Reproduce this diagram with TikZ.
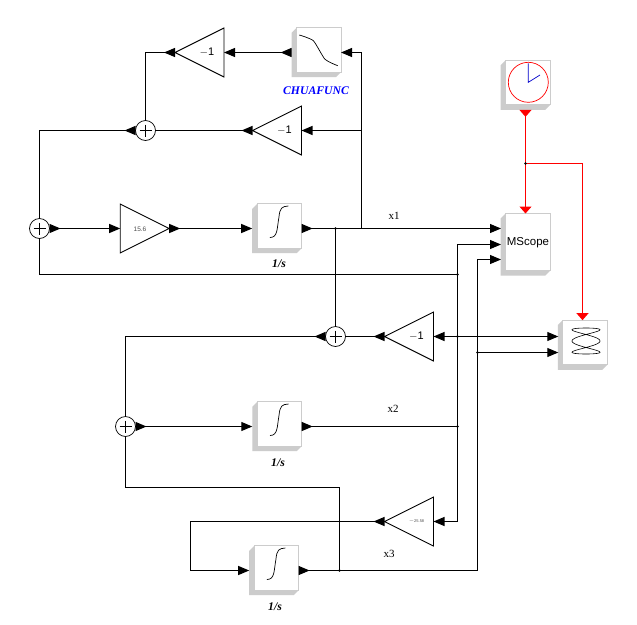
\documentclass[tikz,border=0pt]{standalone}
\usepackage{fontspec}
\setmainfont{Liberation Serif}
\setsansfont{Liberation Sans}
\usetikzlibrary{calc,arrows.meta}
\definecolor{boxgray}{RGB}{204,204,204}
\tikzset{
  x=1pt,y=-1pt,
  boxnode/.style={inner sep=0pt,outer sep=0pt,font=\sffamily},
  gainnode/.style={inner sep=0pt,outer sep=0pt,minimum width=49pt,minimum height=49pt},
  sumnode/.style={circle,draw=black,line width=0.7pt,fill=white,inner sep=0pt,outer sep=0pt,minimum size=20pt},
  glyph/.style={line width=0.7pt},
  tri/.style={draw=black,line width=0.9pt,fill=white,line join=miter},
  wire/.style={draw=black,line width=1.05pt},
  wo/.style={wire,{Triangle[reversed,length=11pt,width=9pt]}-},
  wi/.style={wire,-{Triangle[length=11pt,width=9pt]}},
  woi/.style={wire,{Triangle[reversed,length=11pt,width=9pt]}-{Triangle[length=11pt,width=9pt]}},
  wii/.style={wire,{Triangle[length=11pt,width=9pt]}-{Triangle[length=11pt,width=9pt]}},
  redoi/.style={draw=red,line width=1.05pt,{Triangle[reversed,length=7pt,width=12pt]}-{Triangle[length=7pt,width=12pt]}},
  redi/.style={draw=red,line width=1.05pt,-{Triangle[length=7pt,width=12pt]}},
  lab/.style={font=\fontsize{11}{13}\selectfont,inner sep=0pt},
  blab/.style={font=\fontsize{11.7}{14}\selectfont\bfseries\itshape,inner sep=0pt},
}
% name, cx, cy, w, h, text
\newcommand{\scoblock}[6]{%
  \node[boxnode,minimum width=#4pt,minimum height=#5pt] (#1) at (#2,#3) {};
  \fill[boxgray] ($(#1.north west)+(5,0)$) -- ($(#1.north west)+(0,5)$) -- (#1.south west) -- ($(#1.south east)+(-5,0)$) -- ($(#1.south east)+(0,-5)$) -- cycle;
  \draw[boxgray,fill=white,line width=0.8pt] ($(#1.north west)+(5,0)$) rectangle ($(#1.south east)+(0,-5)$);
  \node[boxnode,font=\sffamily\fontsize{11.5}{13}\selectfont] at ($(#1.center)+(2.5,-1.7)$) {#6};
}
% left-pointing gain
\newcommand{\gainleft}[5]{%
  \node[gainnode] (#1) at (#2,#3) {};
  \draw[tri] (#1.north east) -- (#1.south east) -- (#1.west) -- cycle;
  \node[inner sep=0pt,#5] at ($(#1.center)+(7.5,0)$) {#4};
}
\newcommand{\sumjunction}[3]{%
  \node[sumnode] (#1) at (#2,#3) {};
  \draw[line width=0.7pt] ($(#1.center)+(-6,0)$) -- ($(#1.center)+(6,0)$) ($(#1.center)+(0,-6)$) -- ($(#1.center)+(0,6)$);
}
\newcommand{\intglyph}[1]{%
  \draw[glyph,shift={(#1.center)}] (-7,9) .. controls (1,9) and (0,0) .. (2,-11) .. controls (3,-21) and (5,-22) .. (11.5,-22.5);
}
\begin{document}
\begin{tikzpicture}[x=1pt,y=-1pt]
\useasboundingbox[fill=white] (0,0) rectangle (637,624);
% named junctions
\coordinate (j1) at (335.5,228.5);
\coordinate (jx) at (361.5,228.5);
\coordinate (jg2) at (361.5,130.5);
\coordinate (ms1) at (501,228.5);
\coordinate (ms2) at (501,244.5);
\coordinate (ms3) at (501,259.5);
\coordinate (c2) at (457.5,244.5);
\coordinate (c5) at (477.5,259.5);
\coordinate (j274) at (457.5,274.5);
\coordinate (j336) at (457.5,336.5);
\coordinate (j353) at (477.5,352.5);
\coordinate (j426) at (457.5,426.5);
\coordinate (sc1) at (558.3,336.5);
\coordinate (sc2) at (558.3,352.5);
\coordinate (c3) at (190.5,521.5);
\coordinate (c4) at (339.5,487.5);
\coordinate (j3) at (339.5,570.5);
\coordinate (jr) at (525.5,163.5);
% blocks
\gainleft{g1}{199.5}{52.5}{$-$1}{font=\sffamily\fontsize{11}{13}\selectfont}
\gainleft{g2}{277}{130.5}{$-$1}{font=\sffamily\fontsize{11}{13}\selectfont}
\gainleft{g3}{409}{336.5}{$-$1}{font=\sffamily\fontsize{11}{13}\selectfont}
\gainleft{g4}{409}{521.5}{$-$25.58}{font=\sffamily\fontsize{4}{5}\selectfont,text=black!70}
\node[gainnode] (g0) at (144.7,228.5) {};
\draw[tri] (g0.north west) -- (g0.south west) -- (g0.east) -- cycle;
\node[inner sep=0pt,font=\sffamily\fontsize{6.5}{8}\selectfont,text=black!70] at (140,229) {15.6};
\sumjunction{s1}{145.5}{130.5}
\sumjunction{s2}{39.5}{228.5}
\sumjunction{s3}{335.5}{336.5}
\sumjunction{s4}{125.5}{426.5}
\scoblock{chua}{316.3}{52.5}{49.4}{49.4}{}
\scoblock{i1}{276.9}{228.5}{49.4}{49.4}{}
\scoblock{i2}{277}{426.5}{49.4}{49.4}{}
\scoblock{i3}{273.9}{570.5}{49.4}{49.4}{}
\scoblock{clk}{525.5}{85}{49.7}{49.7}{}
\scoblock{ms}{525.5}{244.5}{49.7}{62}{MScope}
\scoblock{sc}{582.5}{345}{49.4}{49.7}{}
% glyphs
\draw[glyph] plot[smooth,tension=0.35] coordinates {(299.3,35) (313.3,40.7) (325,59.3) (337.7,65.7)};
\intglyph{i1}
\intglyph{i2}
\intglyph{i3}
\draw[red,line width=0.7pt] (528.3,82.3) circle (20);
\draw[blue!80!black,line width=0.7pt] (528.3,63.3) -- (528.3,82.3) -- (540,75);
\draw[line width=0.6pt] plot[domain=0:360,samples=120,smooth] ({586+14*sin(3*\x)},{341-13*cos(\x)});
% wires
\draw[woi] (chua.west) -- (g1.east);
\draw[wo] (g1.west) -| (s1.north);
\draw[wo] (s1.west) -| (s2.north);
\draw[wo] (g2.west) -- (s1.east);
\draw[wi] (jg2) -- (g2.east);
\draw[wi] (jx) |- (chua.east);
\draw[woi] (s2.east) -- (g0.west);
\draw[woi] (g0.east) -- (i1.west);
\draw[woi] (i1.east) -- (ms1);
\draw[wire] (s2.south) |- (j274);
\draw[wire] (s3.north) -- (j1);
\draw[wo] (g3.west) -- (s3.east);
\draw[wo] (s3.west) -| (s4.north);
\draw[woi] (s4.east) -- (i2.west);
\draw[wo] (i2.east) -- (j426);
\draw[wii] (g4.east) -| (c2) -- (ms2);
\draw[wii] (g3.east) -- (sc1);
\draw[woi] (g4.west) -- (c3) |- (i3.west);
\draw[wo] (i3.east) -- (j3);
\draw[wire] (s4.south) |- (c4) -- (j3);
\draw[wi] (j3) -| (c5) -- (ms3);
\draw[wi] (j353) -- (sc2);
\draw[redoi] (clk.south) -- (ms.north);
\draw[redi] (jr) -| (sc.north);
% junction dots
\foreach \p in {j1,j274,j336,j353,j426,j3,jr} \fill[black] (\p) circle (1.3);
% labels
\node[lab] (lx1) at (394,215.7) {x1};
\node[lab] (lx2) at (393,409) {x2};
\node[lab] (lx3) at (389,554) {x3};
\node[blab,text=blue] (lchua) at (316,91) {CHUAFUNC};
\node[blab] (li1) at (279,264) {1/s};
\node[blab] (li2) at (278,463) {1/s};
\node[blab] (li3) at (275,607) {1/s};
\end{tikzpicture}
\end{document}
